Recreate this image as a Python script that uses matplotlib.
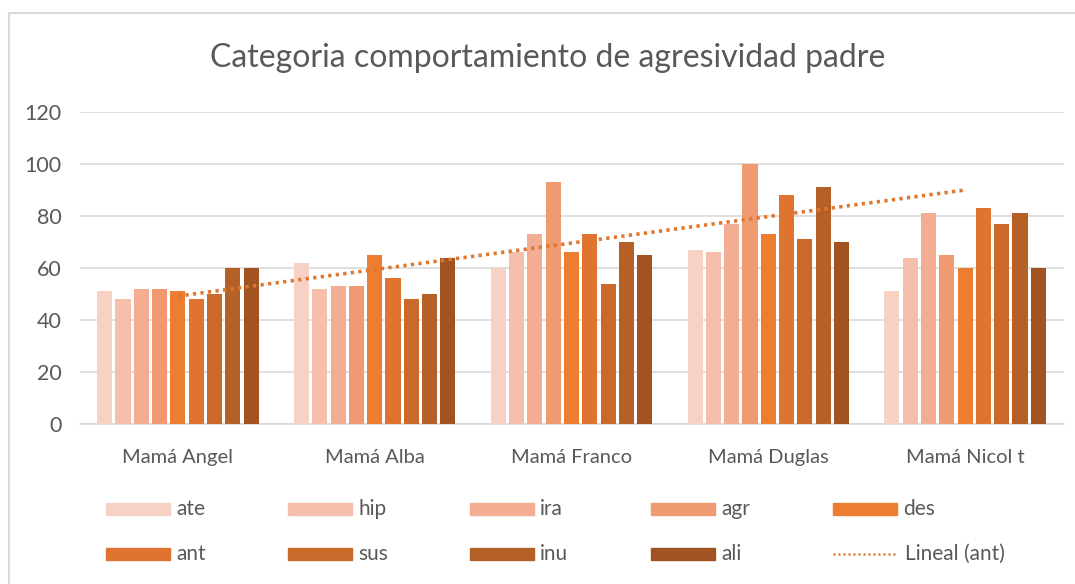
import numpy as np
import matplotlib
matplotlib.use("Agg")
import matplotlib.pyplot as plt
from matplotlib.patches import Rectangle
from matplotlib.lines import Line2D

plt.rcParams['font.family'] = ['Lato', 'DejaVu Sans']

categories = ["Mamá Angel", "Mamá Alba", "Mamá Franco", "Mamá Duglas", "Mamá Nicol t"]
series_names = ["ate", "hip", "ira", "agr", "des", "ant", "sus", "inu", "ali"]
ate = [51, 62, 60, 67, 51]
hip = [48, 52, 66, 66, 64]
ira = [52, 53, 73, 77, 81]
agr = [52, 53, 93, 100, 65]
des = [51, 65, 66, 73, 60]
ant = [48, 56, 73, 88, 83]
sus = [50, 48, 54, 71, 77]
inu = [60, 50, 70, 91, 81]
ali = [60, 64, 65, 70, 60]
series_values = [ate, hip, ira, agr, des, ant, sus, inu, ali]
colors = ["#F7D1C3", "#F5BFAB", "#F2AD92", "#EF9A70", "#ED7D31",
          "#DE7430", "#C96A2B", "#B56027", "#A15322"]
yticks = [0, 20, 40, 60, 80, 100, 120]
trend_label = "Lineal (ant)"
title = "Categoria comportamiento de agresividad padre"

W, H = 1075, 584
fig = plt.figure(figsize=(W / 100, H / 100), dpi=100)
fig.patch.set_facecolor("white")

# chart border
fig.add_artist(Rectangle((9 / W, -0.1), 1.2, 1 - 13 / H + 0.1, transform=fig.transFigure,
                         fill=False, edgecolor="#D9D9D9", lw=1.5))

ax = fig.add_axes([79.5 / W, 1 - 424 / H, 984 / W, 312 / H])
x = np.arange(len(categories))
slot = 0.093
bw = 0.077
n = len(series_names)
for i, (vals, c) in enumerate(zip(series_values, colors)):
    ax.bar(x + (i - (n - 1) / 2) * slot, vals, width=bw, color=c, zorder=3)

# linear trendline of ant
coef = np.polyfit(x, ant, 1)
ax.plot(x, np.polyval(coef, x), color="#E0772F", lw=2.6,
        linestyle=(0, (0.9, 1.2)), zorder=4, dash_capstyle="butt")

ax.set_xlim(-0.5, len(categories) - 0.5)
ax.set_ylim(0, 120)
ax.set_yticks(yticks)
ax.set_yticklabels([str(t) for t in yticks])
ax.set_xticks(x)
ax.set_xticklabels(categories)
ax.grid(axis="y", color="#D9D9D9", lw=1.2, zorder=0)
for s in ["top", "right", "left"]:
    ax.spines[s].set_visible(False)
ax.spines["bottom"].set_color("#D9D9D9")
ax.spines["bottom"].set_linewidth(1.2)
ax.tick_params(axis="x", length=0, colors="#595959", labelsize=14.5, pad=18)
ax.tick_params(axis="y", length=0, colors="#595959", labelsize=15.5, pad=13)

fig.text(548 / W, 1 - 58 / H, title, ha="center", va="center",
         fontsize=23, color="#595959")

# legend
col_x = [106, 288, 470, 651, 833]
row_y = [509, 554]
fs_leg = 15
entries = list(zip(series_names, colors))
for k, (name, c) in enumerate(entries):
    r, col = divmod(k, 5)
    px, py = col_x[col], row_y[r]
    fig.add_artist(Rectangle((px / W, 1 - (py + 6) / H), 64 / W, 12 / H,
                             transform=fig.transFigure, color=c))
    fig.text((px + 70) / W, 1 - py / H, name, ha="left", va="center",
             fontsize=fs_leg, color="#595959")
px, py = col_x[4], row_y[1]
fig.add_artist(Line2D([px / W, (px + 64) / W], [1 - py / H, 1 - py / H],
                      transform=fig.transFigure, color="#E0772F", lw=1.8,
                      linestyle=(0, (0.8, 1.2))))
fig.text((px + 72) / W, 1 - py / H, trend_label, ha="left", va="center",
         fontsize=fs_leg, color="#595959")

fig.savefig("out.png", dpi=100, facecolor="white")
